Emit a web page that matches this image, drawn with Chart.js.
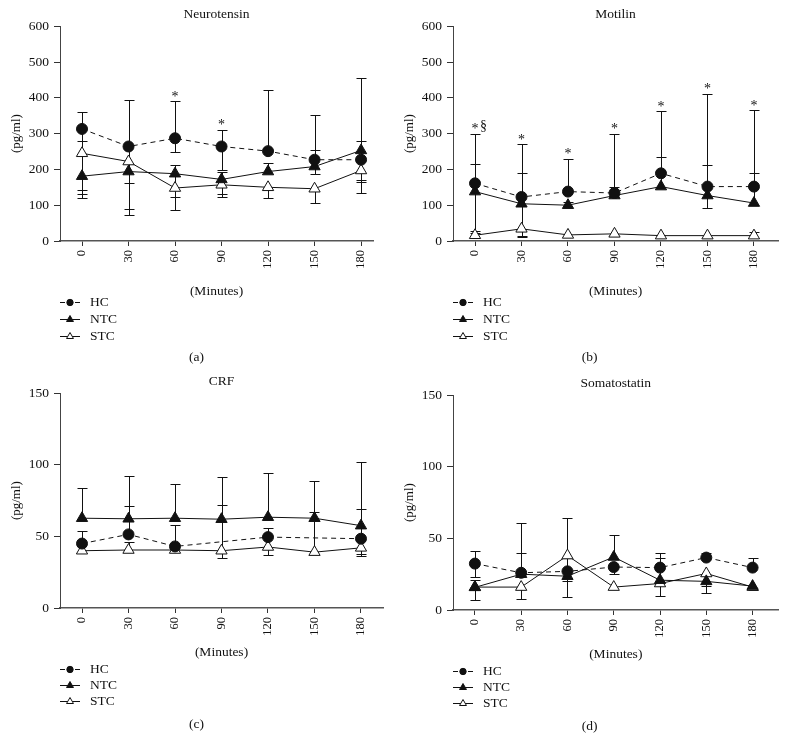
<!DOCTYPE html>
<html>
<head>
<meta charset="utf-8">
<script src="https://cdn.jsdelivr.net/npm/chart.js@4.4.0/dist/chart.umd.min.js"></script>
<style>
body { margin: 0; background: #fff; }
.panel { position: absolute; }
</style>
</head>
<body>
<canvas class="panel" id="chartA" width="393" height="370" style="left:0;top:0"></canvas>
<canvas class="panel" id="chartB" width="393" height="370" style="left:393px;top:0"></canvas>
<canvas class="panel" id="chartC" width="393" height="384" style="left:0;top:367px"></canvas>
<canvas class="panel" id="chartD" width="393" height="382" style="left:393px;top:369px"></canvas>
<script>
const times = [0, 30, 60, 90, 120, 150, 180];
const timeLabels = ['0', '30', '60', '90', '120', '150', '180'];
const groupNames = ['HC', 'NTC', 'STC'];

// Neurotensin
const ntHC = [313, 264, 287, 264, 251, 227, 227];
const ntNTC = [181, 194, 188, 172, 194, 208, 253];
const ntSTC = [245, 222, 148, 157, 150, 146, 197];
const ntHCHi = [360, 393, 390, 311, 421, 353, 455];
const ntHCLo = [142, 90, 250, 197, null, 188, 171];
const ntNTCHi = [null, null, 212, 193, 217, 255, 279];
const ntNTCLo = [132, 162, 86, 123, null, null, 134];
const ntSTCHi = [279, null, null, null, null, null, null];
const ntSTCLo = [119, 74, 123, 130, 120, 106, 165];
const ntStars = ['', '', '*', '*', '', '', ''];

// Motilin
const moHC = [161, 123, 138, 134, 189, 152, 152];
const moNTC = [138, 104, 100, 127, 152, 127, 106];
const moSTC = [16, 34, 17, 20, 15, 15, 15];
const moHCHi = [300, 270, 230, 300, 363, 412, 365];
const moHCLo = [null, null, null, null, null, null, null];
const moNTCHi = [215, 191, 109, 150, 235, 211, 191];
const moNTCLo = [22, 15, null, null, null, 92, null];
const moSTCHi = [28, null, null, null, null, null, 24];
const moSTCLo = [null, 10, null, null, null, null, null];
const moStars = ['* §', '*', '*', '*', '*', '*', '*'];

// CRF
const crHC = [45, 51.4, 43, null, 49.5, null, 48.4];
const crNTC = [62.7, 62.3, 62.7, 62, 63.4, 62.7, 57.5];
const crSTC = [40, 40.5, 40.5, 40, 42.6, 39, 42];
const crHCHi = [54, 71, 58, null, 56, null, 69];
const crHCLo = [null, null, null, null, null, null, 38];
const crNTCHi = [84, 92, 86.5, 91.5, 94, 89, 102];
const crNTCLo = [null, null, null, null, null, null, null];
const crSTCHi = [null, 46, null, 72, null, 67, null];
const crSTCLo = [null, null, null, 35, 37, null, 36];
const crStars = ['', '', '', '', '', '', ''];

// Somatostatin
const soHC = [32.4, 26, 27, 30, 29.6, 36.6, 29.6];
const soNTC = [15.8, 25, 23.6, 37, 20.8, 20, 16.7];
const soSTC = [16, 16, 38, 16, 18.5, 25.5, 16];
const soHCHi = [41, 40, 36, null, 40, 40, 36];
const soHCLo = [23, null, 20, 25, null, null, null];
const soNTCHi = [21, 61, null, 52.5, 36, null, null];
const soNTCLo = [7, null, 9, null, null, 12, null];
const soSTCHi = [null, null, 64, null, null, null, null];
const soSTCLo = [null, 7.6, null, null, 10, 17, 14];
const soStars = ['', '', '', '', '', '', ''];

const serif = "'Liberation Serif', 'DejaVu Serif', serif";
const ink = '#111';

const errorBarPlugin = {
    id: 'errorBars',
    beforeDatasetsDraw(chart, args, opts) {
        const ctx = chart.ctx;
        const x = chart.scales.x, y = chart.scales.y;
        ctx.save();
        ctx.strokeStyle = ink;
        ctx.lineWidth = 1;
        chart.data.datasets.forEach((ds, di) => {
            ds.data.forEach((pt, i) => {
                if (pt.y == null) return;
                const px = Math.round(x.getPixelForValue(pt.x)) + 0.5;
                const y0 = y.getPixelForValue(pt.y);
                [opts.hi[di][i], opts.lo[di][i]].forEach(end => {
                    if (end == null) return;
                    const y1 = Math.round(y.getPixelForValue(end)) + 0.5;
                    ctx.beginPath();
                    ctx.moveTo(px, y0);
                    ctx.lineTo(px, y1);
                    ctx.moveTo(px - 5, y1);
                    ctx.lineTo(px + 5, y1);
                    ctx.stroke();
                });
            });
        });
        // significance marks above the HC bars
        ctx.fillStyle = ink;
        ctx.font = '14px ' + serif;
        ctx.textBaseline = 'middle';
        opts.stars.forEach((s, i) => {
            if (!s) return;
            const px = x.getPixelForValue(times[i]);
            const py = y.getPixelForValue(opts.hi[0][i]) - 7;
            const parts = s.split(' ');
            ctx.textAlign = 'center';
            ctx.fillText(parts[0], px, py + 3);
            if (parts[1]) {
                ctx.textAlign = 'left';
                ctx.fillText(parts[1], px + 5, py);
            }
        });
        ctx.restore();
    }
};

const legendPlugin = {
    id: 'groupLegend',
    afterDraw(chart, args, opts) {
        const ctx = chart.ctx;
        const area = chart.chartArea;
        const left = area.left;
        ctx.save();
        chart.data.datasets.forEach((ds, i) => {
            const yRow = area.bottom + opts.rows[i] + 0.5;
            ctx.strokeStyle = ink;
            ctx.lineWidth = 1;
            ctx.setLineDash(ds.borderDash && ds.borderDash.length ? [5, 10] : []);
            ctx.beginPath();
            ctx.moveTo(left, yRow);
            ctx.lineTo(left + 20, yRow);
            ctx.stroke();
            ctx.setLineDash([]);
            ctx.fillStyle = ds.pointBackgroundColor;
            ctx.strokeStyle = ink;
            Chart.helpers.drawPoint(ctx, { pointStyle: ds.pointStyle, radius: ds.pointStyle === 'circle' ? 3.2 : 4, borderWidth: 1 }, left + 10, yRow);
            ctx.fillStyle = ink;
            ctx.font = '13.5px ' + serif;
            ctx.textAlign = 'left';
            ctx.textBaseline = 'middle';
            ctx.fillText(ds.label, left + 30, yRow);
        });
        ctx.font = '13.5px ' + serif;
        ctx.textAlign = 'center';
        ctx.fillText(opts.caption, chart.width / 2, area.bottom + opts.captionOffset);
        ctx.restore();
    }
};

function toPoints(vals) {
    return vals.map((v, i) => ({ x: times[i], y: v }));
}

function makePanel(id, p) {
    const styles = [
        { borderDash: [5, 4], pointStyle: 'circle', pointRadius: 5.5, pointBackgroundColor: ink },
        { borderDash: [], pointStyle: 'triangle', pointRadius: 6.5, pointBackgroundColor: ink },
        { borderDash: [], pointStyle: 'triangle', pointRadius: 6.5, pointBackgroundColor: '#fff' }
    ];
    const datasets = p.series.map((vals, i) => Object.assign({
        label: groupNames[i],
        data: toPoints(vals),
        borderColor: ink,
        borderWidth: 1,
        pointBorderColor: ink,
        pointBorderWidth: 1,
        pointHoverRadius: 6,
        spanGaps: true,
        tension: 0
    }, styles[i]));

    return new Chart(document.getElementById(id), {
        type: 'line',
        data: { datasets: datasets },
        plugins: [errorBarPlugin, legendPlugin],
        options: {
            responsive: false,
            animation: false,
            layout: { padding: { left: 0, right: p.rightPad, top: 0, bottom: p.bottomPad } },
            plugins: {
                legend: { display: false },
                tooltip: { enabled: false },
                title: {
                    display: true,
                    text: p.title,
                    fullSize: false,
                    color: ink,
                    font: { family: serif, size: 13.5, weight: 'normal' },
                    padding: { top: 6, bottom: 4 }
                },
                errorBars: { hi: p.hi, lo: p.lo, stars: p.stars },
                groupLegend: { rows: p.legendRows, caption: p.caption, captionOffset: 116 }
            },
            scales: {
                x: {
                    type: 'linear',
                    min: -14.2,
                    max: p.xMax,
                    afterBuildTicks: scale => { scale.ticks = times.map(v => ({ value: v })); },
                    afterFit: scale => { scale.height = p.xHeight; },
                    ticks: {
                        callback: v => timeLabels[times.indexOf(v)],
                        minRotation: 90,
                        maxRotation: 90,
                        padding: 4,
                        color: ink,
                        font: { family: serif, size: 12.5 }
                    },
                    grid: { drawOnChartArea: false, drawTicks: true, tickLength: 5, color: '#333' },
                    border: { display: true, color: '#555', width: 1.5 },
                    title: {
                        display: true,
                        text: '(Minutes)',
                        color: ink,
                        font: { family: serif, size: 13.5 },
                        padding: { top: 0, bottom: 0 }
                    }
                },
                y: {
                    min: 0,
                    max: p.yMax,
                    afterFit: scale => { scale.width = 60; },
                    ticks: {
                        stepSize: p.yStep,
                        padding: 5,
                        color: ink,
                        font: { family: serif, size: 13.5 }
                    },
                    grid: { drawOnChartArea: false, drawTicks: true, tickLength: 6, color: '#333' },
                    border: { display: true, color: '#444', width: 1 },
                    title: {
                        display: true,
                        text: '(pg/ml)',
                        color: ink,
                        font: { family: serif, size: 13 },
                        padding: { top: 9, bottom: 0 }
                    }
                }
            }
        }
    });
}

makePanel('chartA', {
    title: 'Neurotensin', caption: '(a)', yMax: 600, yStep: 100, xMax: 187.7, rightPad: 20,
    xHeight: 59, bottomPad: 70, legendRows: [61, 78, 95],
    series: [ntHC, ntNTC, ntSTC], hi: [ntHCHi, ntNTCHi, ntSTCHi], lo: [ntHCLo, ntNTCLo, ntSTCLo], stars: ntStars
});
makePanel('chartB', {
    title: 'Motilin', caption: '(b)', yMax: 600, yStep: 100, xMax: 195.5, rightPad: 8,
    xHeight: 59, bottomPad: 70, legendRows: [61, 78, 95],
    series: [moHC, moNTC, moSTC], hi: [moHCHi, moNTCHi, moSTCHi], lo: [moHCLo, moNTCLo, moSTCLo], stars: moStars
});
makePanel('chartC', {
    title: 'CRF', caption: '(c)', yMax: 150, yStep: 50, xMax: 194.2, rightPad: 10,
    xHeight: 53, bottomPad: 90, legendRows: [61, 77, 93],
    series: [crHC, crNTC, crSTC], hi: [crHCHi, crNTCHi, crSTCHi], lo: [crHCLo, crNTCLo, crSTCLo], stars: crStars
});
makePanel('chartD', {
    title: 'Somatostatin', caption: '(d)', yMax: 150, yStep: 50, xMax: 196.8, rightPad: 6,
    xHeight: 53, bottomPad: 88, legendRows: [61, 77, 93],
    series: [soHC, soNTC, soSTC], hi: [soHCHi, soNTCHi, soSTCHi], lo: [soHCLo, soNTCLo, soSTCLo], stars: soStars
});
</script>
</body>
</html>
